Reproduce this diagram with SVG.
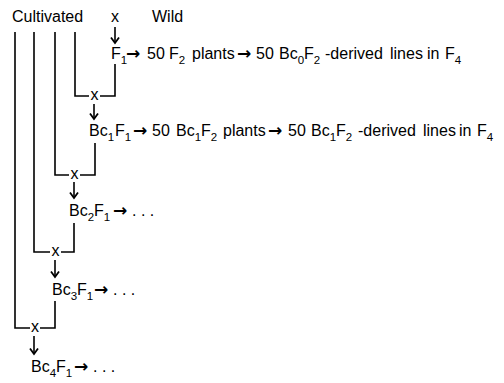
<svg xmlns="http://www.w3.org/2000/svg" width="504" height="383" viewBox="0 0 504 383">
<style>
.t{font-family:"Liberation Sans",Arial,sans-serif;font-size:16px;fill:#000}
.s{font-size:11.5px}
.a{font-family:"DejaVu Sans",sans-serif;font-size:17px;font-weight:bold}
.ln{stroke:#000;stroke-width:1.6;fill:none}
.ar{stroke:#000;stroke-width:1.6;fill:none;marker-end:url(#ah)}
</style>
<defs>
<marker id="ah" viewBox="0 0 10 10" refX="8.5" refY="5" markerWidth="10" markerHeight="10" markerUnits="userSpaceOnUse" orient="auto">
<path d="M3,1 L8.5,5 L3,9" fill="none" stroke="#000" stroke-width="1.8"/>
</marker>
</defs>
<rect width="504" height="383" fill="#fff"/>

<g id="cultivated"><text class="t" x="12" y="22">Cultivated</text></g>
<g id="wild"><text class="t" x="152" y="22">Wild</text></g>

<g id="connectors">
<line class="ar" x1="115" y1="27" x2="115" y2="43"/>
<path class="ln" d="M75,32 V96 H89 M100,96 H115 V64"/>
<line class="ar" x1="94" y1="104" x2="94" y2="119"/>
<path class="ln" d="M55,32 V175 H69 M80,175 H95 V143"/>
<line class="ar" x1="74" y1="182" x2="74" y2="198"/>
<path class="ln" d="M34,32 V252 H50 M61,252 H74 V223"/>
<line class="ar" x1="55" y1="260" x2="55" y2="277"/>
<path class="ln" d="M15,32 V328 H30 M40,328 H55 V301"/>
<line class="ar" x1="34" y1="336" x2="34" y2="354"/>
</g>

<g id="crosses">
<text class="t" x="111" y="22">x</text>
<text class="t" x="90.5" y="100">x</text>
<text class="t" x="70.5" y="179">x</text>
<text class="t" x="51.5" y="256">x</text>
<text class="t" x="31" y="332">x</text>
</g>

<g id="row-f1">
<text class="t" y="59"><tspan x="111">F</tspan><tspan class="s" dy="5">1</tspan><tspan class="a" x="126" dy="-5">→</tspan><tspan x="147">50</tspan><tspan x="169">F</tspan><tspan class="s" dy="5">2</tspan><tspan x="192" dy="-5">plants</tspan><tspan class="a" x="237">→</tspan><tspan x="256">50</tspan><tspan x="279">Bc</tspan><tspan class="s" dy="5">0</tspan><tspan dy="-5">F</tspan><tspan class="s" dy="5">2</tspan><tspan x="325" dy="-5">-derived</tspan><tspan x="390">lines</tspan><tspan x="427">in</tspan><tspan x="445">F</tspan><tspan class="s" dy="5">4</tspan></text>
</g>

<g id="row-bc1f1">
<text class="t" y="136"><tspan x="89">Bc</tspan><tspan class="s" dy="5">1</tspan><tspan x="115" dy="-5">F</tspan><tspan class="s" dy="5">1</tspan><tspan class="a" x="133" dy="-5">→</tspan><tspan x="152">50</tspan><tspan x="176">Bc</tspan><tspan class="s" dy="5">1</tspan><tspan dy="-5">F</tspan><tspan class="s" dy="5">2</tspan><tspan x="223" dy="-5">plants</tspan><tspan class="a" x="268">→</tspan><tspan x="288">50</tspan><tspan x="311">Bc</tspan><tspan class="s" dy="5">1</tspan><tspan dy="-5">F</tspan><tspan class="s" dy="5">2</tspan><tspan x="358" dy="-5">-derived</tspan><tspan x="423">lines</tspan><tspan x="459">in</tspan><tspan x="477">F</tspan><tspan class="s" dy="5">4</tspan></text>
</g>

<g id="row-bc2f1">
<text class="t" y="216"><tspan x="69">Bc</tspan><tspan class="s" dy="5">2</tspan><tspan dy="-5">F</tspan><tspan class="s" dy="5">1</tspan><tspan class="a" x="113" dy="-5">→</tspan><tspan x="132">. . .</tspan></text>
</g>

<g id="row-bc3f1">
<text class="t" y="295"><tspan x="52">Bc</tspan><tspan class="s" dy="5">3</tspan><tspan dy="-5">F</tspan><tspan class="s" dy="5">1</tspan><tspan class="a" x="94" dy="-5">→</tspan><tspan x="113">. . .</tspan></text>
</g>

<g id="row-bc4f1">
<text class="t" y="372"><tspan x="31">Bc</tspan><tspan class="s" dy="5">4</tspan><tspan dy="-5">F</tspan><tspan class="s" dy="5">1</tspan><tspan class="a" x="74" dy="-5">→</tspan><tspan x="93">. . .</tspan></text>
</g>
</svg>
